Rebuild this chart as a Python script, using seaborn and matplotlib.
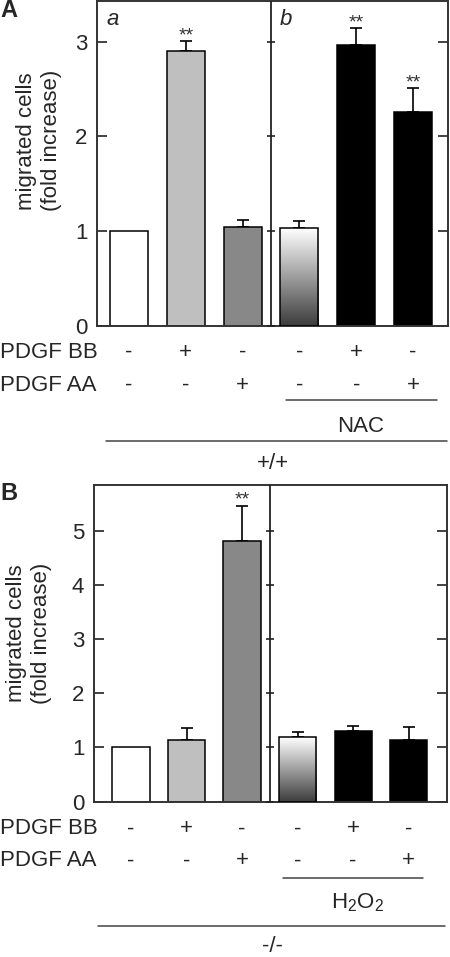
import numpy as np
import matplotlib
matplotlib.use('Agg')
import matplotlib.pyplot as plt
import matplotlib.transforms as mtransforms
from matplotlib.colors import LinearSegmentedColormap
from matplotlib.lines import Line2D
import seaborn as sns

# ---- data ----
conditions = ['ctrl', 'BB', 'AA', 'trt', 'trt+BB', 'trt+AA']
bar_colors = ['#ffffff', '#bfbfbf', '#888888', '#ffffff', '#000000', '#000000']
bb_signs = ['-', '+', '-', '-', '+', '-']
aa_signs = ['-', '-', '+', '-', '-', '+']

# panel A : +/+ cells, NAC
mean_a = [1.00, 2.90, 1.04, 1.03, 2.97, 2.26]
err_a = [0.00, 0.11, 0.08, 0.08, 0.17, 0.25]
stars_a = ['', '**', '', '', '**', '**']

# panel B : -/- cells, H2O2
mean_b = [1.00, 1.14, 4.80, 1.19, 1.30, 1.13]
err_b = [0.00, 0.21, 0.66, 0.10, 0.10, 0.24]
stars_b = ['', '', '**', '', '', '']

sns.set_style('white')
plt.rcParams['font.family'] = ['Liberation Sans', 'DejaVu Sans']
plt.rcParams['mathtext.fontset'] = 'custom'
plt.rcParams['mathtext.rm'] = 'Liberation Sans'
plt.rcParams['mathtext.it'] = 'Liberation Sans:italic'

FS = 16
W, H = 450, 957
fig = plt.figure(figsize=(W / 100, H / 100), dpi=100)

grad_cmap = LinearSegmentedColormap.from_list('g', ['#3c3c3c', '#ffffff'])


def fy(px):
    # figure fraction from pixel row
    return 1 - px / H


def draw_panel(ax, mean, err, stars, yticks, ylim, xlim):
    df = {'cond': conditions, 'val': mean}
    sns.barplot(x='cond', y='val', hue='cond', data=df, order=conditions,
                palette=dict(zip(conditions, bar_colors)), legend=False,
                width=0.67, edgecolor='black', linewidth=1.1, ax=ax, zorder=2)
    bars = sorted(ax.patches, key=lambda p: p.get_x())
    xs = [p.get_x() + p.get_width() / 2 for p in bars]

    # gradient bar (control of the second group)
    p = bars[3]
    p.set_facecolor('none')
    p.set_zorder(3)
    grad = np.linspace(0, 1, 256).reshape(-1, 1)
    ax.imshow(grad, cmap=grad_cmap, origin='lower', aspect='auto', zorder=2.5,
              extent=(p.get_x(), p.get_x() + p.get_width(), p.get_y(), p.get_y() + p.get_height()),
              clip_path=p)

    # error bars (upper half only)
    for x, m, e in zip(xs, mean, err):
        if e > 0:
            ax.errorbar([x], [m], yerr=[[0], [e]], fmt='none', ecolor='black',
                        elinewidth=1.2, capsize=4.5, capthick=1.2, zorder=1)
    for x, m, e, s in zip(xs, mean, err, stars):
        if s:
            ax.annotate(s, (x, m + e), xytext=(0, 0.5), textcoords='offset points',
                        ha='center', va='baseline', fontsize=14, color='#333333')

    div = (xs[2] + xs[3]) / 2
    ax.axvline(div, color='#222222', lw=1.3, zorder=4)
    ax.plot([div] * len(yticks), yticks, ls='none', marker='_', ms=6, mew=1.2,
            color='#222222', zorder=4)

    ax.set_xlim(*xlim)
    ax.set_ylim(*ylim)
    ax.set_yticks(yticks)
    ax.set_xticks([])
    ax.set_xlabel('')
    ax.set_ylabel('migrated cells\n(fold increase)', fontsize=FS, linespacing=1.25)
    ax.tick_params(axis='y', direction='in', left=True, right=True, length=7,
                   width=1.2, labelsize=FS, pad=7, color='#222222')
    for sp in ax.spines.values():
        sp.set_visible(True)
        sp.set_color('#333333')
        sp.set_linewidth(1.4)
    return xs


def draw_rows(ax, xs, row_px, group_line, group_text, big_line, big_text):
    tr = mtransforms.blended_transform_factory(ax.transData, fig.transFigure)
    for lab, signs, py in [('PDGF BB', bb_signs, row_px[0]), ('PDGF AA', aa_signs, row_px[1])]:
        fig.text(0.0, fy(py), lab, ha='left', va='center', fontsize=FS)
        for x, s in zip(xs, signs):
            ax.text(x, fy(py), s, transform=tr, ha='center', va='center', fontsize=FS)
    x0, x1, py = group_line
    ax.add_artist(Line2D([x0, x1], [fy(py), fy(py)], transform=tr, color='#444444', lw=1.1, clip_on=False))
    tx, ty, txt = group_text
    ax.text(tx, fy(ty), txt, transform=tr, ha='center', va='center', fontsize=FS)
    x0, x1, py = big_line
    ax.add_artist(Line2D([x0, x1], [fy(py), fy(py)], transform=tr, color='#444444', lw=1.1, clip_on=False))
    tx, ty, txt = big_text
    ax.text(tx, fy(ty), txt, transform=tr, ha='center', va='center', fontsize=FS)


# ---- panel A ----
axA = fig.add_axes([97 / W, fy(326), 351 / W, 325 / H])
xsA = draw_panel(axA, mean_a, err_a, stars_a, [0, 1, 2, 3], (0, 3.43), (-0.563, 5.616))
axA.yaxis.set_label_coords(-0.10, 0.57)
axA.text(0.028, 0.926, 'a', transform=axA.transAxes, fontsize=FS, style='italic')
axA.text(0.521, 0.926, 'b', transform=axA.transAxes, fontsize=FS, style='italic')
draw_rows(axA, xsA, (352, 385), (2.76, 5.42, 400), (4.07, 426, 'NAC'),
          (-0.40, 5.60, 441), (2.54, 463, '+/+'))
fig.text(0.0, fy(17), 'A', fontsize=17, fontweight='bold', ha='left', va='baseline')

# ---- panel B ----
axB = fig.add_axes([94 / W, fy(801.7), 353 / W, 316.7 / H])
xsB = draw_panel(axB, mean_b, err_b, stars_b, [0, 1, 2, 3, 4, 5], (0, 5.84), (-0.667, 5.69))
axB.yaxis.set_label_coords(-0.12, 0.533)
draw_rows(axB, xsB, (829, 861), (2.74, 5.26, 878), (4.07, 903, 'H$_2$O$_2$'),
          (-0.59, 5.66, 926), (2.54, 947, '-/-'))
fig.text(0.0, fy(500), 'B', fontsize=17, fontweight='bold', ha='left', va='baseline')

fig.savefig('out.png', dpi=100)
